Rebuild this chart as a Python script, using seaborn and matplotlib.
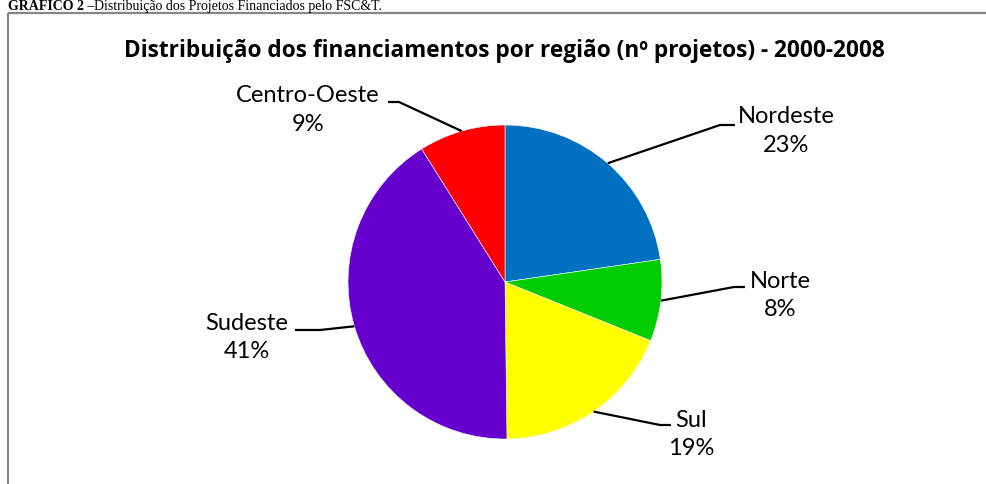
import numpy as np
import matplotlib
matplotlib.use("Agg")
import matplotlib.pyplot as plt
import seaborn as sns
from matplotlib.patches import Rectangle

# ---- data ----
regions = ["Nordeste", "Norte", "Sul", "Sudeste", "Centro-Oeste"]
shares = [22.7, 8.4, 18.7, 41.3, 8.9]
pct_labels = ["23%", "8%", "19%", "41%", "9%"]
colors = ["#0070C0", "#00CC00", "#FFFF00", "#6600CC", "#FF0000"]
title = "Distribuição dos financiamentos por região (nº projetos) - 2000-2008"
caption_bold = "GRÁFICO 2 –"
caption_rest = "Distribuição dos Projetos Financiados pelo FSC&T."

sns.set_theme(style="white")
plt.rcParams["font.family"] = ["Lato", "DejaVu Sans"]

W, H = 986, 484
fig = plt.figure(figsize=(W / 100, H / 100), dpi=100)
ax = fig.add_axes([0, 0, 1, 1])

cx, cy, r = 505, 282, 157
wedges, _ = ax.pie(shares, colors=colors, startangle=-90, counterclock=True,
                   center=(cx, cy), radius=r,
                   wedgeprops=dict(edgecolor="white", linewidth=0.4))
ax.set_xlim(0, W)
ax.set_ylim(H, 0)
ax.set_aspect("auto")
ax.axis("off")

# frame of the chart area (cropped on right and bottom)
ax.add_patch(Rectangle((8, 13), W + 20, H + 20, fill=False,
                       edgecolor="#878787", linewidth=1.6, clip_on=True))

renderer = fig.canvas.get_renderer()

# title, fitted to the reference width
tt = ax.text(504, 51, title, ha="center", va="center", fontsize=13,
             fontweight="bold", family=["Open Sans", "DejaVu Sans"],
             color="black")
tw = tt.get_window_extent(renderer=renderer).width
tt.set_fontsize(13 * 754 / tw)

# labels: (text center x, block center y), elbow, end of leader
label_pos = [(786, 131), (780, 295.5), (691, 434.5), (247, 337.5), (308, 110)]
elbows = [(720, 125), (734, 287), (660, 425), (320, 330), (399, 102)]
ends = [(735, 125), (745, 287), (671, 425), (295, 330), (388, 102)]

for w, name, pct, lp, el, en in zip(wedges, regions, pct_labels,
                                    label_pos, elbows, ends):
    th = np.deg2rad((w.theta1 + w.theta2) / 2)
    sx, sy = cx + r * np.cos(th), cy + r * np.sin(th)
    ax.plot([sx, el[0], en[0]], [sy, el[1], en[1]], color="black",
            linewidth=1.6, solid_capstyle="butt")
    ax.text(lp[0], lp[1], f"{name}\n{pct}", ha="center", va="center",
            fontsize=17, linespacing=1.45, color="black")

# caption above the frame
t1 = ax.text(8, 10, caption_bold, ha="left", va="baseline", fontsize=10,
             fontweight="bold", family="Liberation Serif", color="black")
bb = t1.get_window_extent(renderer=renderer)
ax.text(8 + bb.width, 10, caption_rest, ha="left", va="baseline", fontsize=10,
        family="Liberation Serif", color="black")

fig.savefig("out.png", dpi=100)
